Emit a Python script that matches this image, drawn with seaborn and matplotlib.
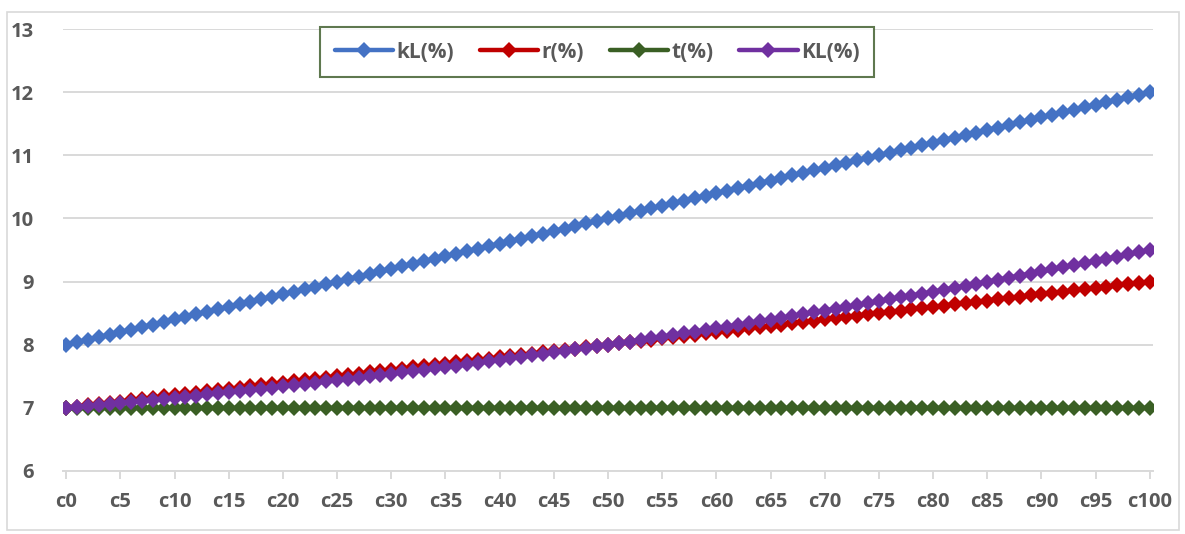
import matplotlib
matplotlib.use("Agg")
import matplotlib.pyplot as plt
import matplotlib.patches as mpatches
import seaborn as sns
import pandas as pd

categories = ["c%d" % i for i in range(101)]

kL = [8.00, 8.04, 8.08, 8.12, 8.16, 8.20, 8.24, 8.28, 8.32, 8.36,
      8.40, 8.44, 8.48, 8.52, 8.56, 8.60, 8.64, 8.68, 8.72, 8.76,
      8.80, 8.84, 8.88, 8.92, 8.96, 9.00, 9.04, 9.08, 9.12, 9.16,
      9.20, 9.24, 9.28, 9.32, 9.36, 9.40, 9.44, 9.48, 9.52, 9.56,
      9.60, 9.64, 9.68, 9.72, 9.76, 9.80, 9.84, 9.88, 9.92, 9.96,
      10.00, 10.04, 10.08, 10.12, 10.16, 10.20, 10.24, 10.28, 10.32, 10.36,
      10.40, 10.44, 10.48, 10.52, 10.56, 10.60, 10.64, 10.68, 10.72, 10.76,
      10.80, 10.84, 10.88, 10.92, 10.96, 11.00, 11.04, 11.08, 11.12, 11.16,
      11.20, 11.24, 11.28, 11.32, 11.36, 11.40, 11.44, 11.48, 11.52, 11.56,
      11.60, 11.64, 11.68, 11.72, 11.76, 11.80, 11.84, 11.88, 11.92, 11.96,
      12.00]

r = [7.00, 7.02, 7.04, 7.06, 7.08, 7.10, 7.12, 7.14, 7.16, 7.18,
     7.20, 7.22, 7.24, 7.26, 7.28, 7.30, 7.32, 7.34, 7.36, 7.38,
     7.40, 7.42, 7.44, 7.46, 7.48, 7.50, 7.52, 7.54, 7.56, 7.58,
     7.60, 7.62, 7.64, 7.66, 7.68, 7.70, 7.72, 7.74, 7.76, 7.78,
     7.80, 7.82, 7.84, 7.86, 7.88, 7.90, 7.92, 7.94, 7.96, 7.98,
     8.00, 8.02, 8.04, 8.06, 8.08, 8.10, 8.12, 8.14, 8.16, 8.18,
     8.20, 8.22, 8.24, 8.26, 8.28, 8.30, 8.32, 8.34, 8.36, 8.38,
     8.40, 8.42, 8.44, 8.46, 8.48, 8.50, 8.52, 8.54, 8.56, 8.58,
     8.60, 8.62, 8.64, 8.66, 8.68, 8.70, 8.72, 8.74, 8.76, 8.78,
     8.80, 8.82, 8.84, 8.86, 8.88, 8.90, 8.92, 8.94, 8.96, 8.98,
     9.00]

t = [7.00] * 101

KL = [7.0000, 7.0151, 7.0304, 7.0459, 7.0616, 7.0775, 7.0936, 7.1099, 7.1264, 7.1431,
      7.1600, 7.1771, 7.1944, 7.2119, 7.2296, 7.2475, 7.2656, 7.2839, 7.3024, 7.3211,
      7.3400, 7.3591, 7.3784, 7.3979, 7.4176, 7.4375, 7.4576, 7.4779, 7.4984, 7.5191,
      7.5400, 7.5611, 7.5824, 7.6039, 7.6256, 7.6475, 7.6696, 7.6919, 7.7144, 7.7371,
      7.7600, 7.7831, 7.8064, 7.8299, 7.8536, 7.8775, 7.9016, 7.9259, 7.9504, 7.9751,
      8.0000, 8.0251, 8.0504, 8.0759, 8.1016, 8.1275, 8.1536, 8.1799, 8.2064, 8.2331,
      8.2600, 8.2871, 8.3144, 8.3419, 8.3696, 8.3975, 8.4256, 8.4539, 8.4824, 8.5111,
      8.5400, 8.5691, 8.5984, 8.6279, 8.6576, 8.6875, 8.7176, 8.7479, 8.7784, 8.8091,
      8.8400, 8.8711, 8.9024, 8.9339, 8.9656, 8.9975, 9.0296, 9.0619, 9.0944, 9.1271,
      9.1600, 9.1931, 9.2264, 9.2599, 9.2936, 9.3275, 9.3616, 9.3959, 9.4304, 9.4651,
      9.5000]

series_names = ["kL(%)", "r(%)", "t(%)", "KL(%)"]
series_values = [kL, r, t, KL]
colors = ["#4472C4", "#C00000", "#3A5F24", "#7030A0"]
y_ticks = [6, 7, 8, 9, 10, 11, 12, 13]

sns.set_theme(style="white")
plt.rcParams["font.family"] = ["Open Sans", "DejaVu Sans"]

rows = []
for name, vals in zip(series_names, series_values):
    for i, v in enumerate(vals):
        rows.append({"idx": i, "cat": categories[i], "value": v, "series": name})
df = pd.DataFrame(rows)

fig = plt.figure(figsize=(11.85, 5.34), dpi=100)
ax = fig.add_axes([63 / 1185, 1 - 471 / 534, (1153 - 63) / 1185, (471 - 29) / 534])

sns.lineplot(data=df, x="idx", y="value", hue="series", hue_order=series_names,
             palette=colors, marker="D", markersize=8.5, markeredgewidth=0,
             linewidth=3.2, ax=ax, legend=True, sort=False)

ax.set_xlim(-0.3, 100.3)
ax.set_ylim(6, 13)
ax.set_yticks(y_ticks)
ax.set_yticklabels([str(v) for v in y_ticks])
ax.set_xticks(list(range(0, 101, 5)))
ax.set_xticklabels(categories[::5])
ax.set_xlabel("")
ax.set_ylabel("")

ax.grid(axis="y", color="#D9D9D9", linewidth=1.4)
ax.set_axisbelow(True)
for side in ["left", "right", "top"]:
    ax.spines[side].set_visible(False)
ax.spines["bottom"].set_color("#D9D9D9")
ax.spines["bottom"].set_linewidth(1.4)

ax.tick_params(axis="x", which="major", bottom=True, length=6, width=1.4,
               color="#D9D9D9", direction="out", pad=9,
               labelsize=14.5, labelcolor="#595959")
ax.tick_params(axis="y", left=False, pad=15, labelsize=14.5, labelcolor="#595959")
for lab in ax.get_xticklabels() + ax.get_yticklabels():
    lab.set_fontweight("bold")

ax.get_legend().remove()
handles = [plt.Line2D([], [], color=c, marker="D", markersize=8, linewidth=3.2,
                      markeredgewidth=0) for c in colors]
leg = fig.legend(handles, series_names, loc="upper center",
                 bbox_to_anchor=(597 / 1185, 1 - 27 / 534), ncol=4,
                 frameon=True, fancybox=False, handlelength=2.8,
                 columnspacing=1.25, handletextpad=0.15, borderpad=0.7,
                 borderaxespad=0.0,
                 prop={"weight": "bold", "size": 15})
leg.get_frame().set_edgecolor("#375623")
leg.get_frame().set_linewidth(1.5)
for txt in leg.get_texts():
    txt.set_color("#595959")

border = mpatches.Rectangle((7 / 1185, 4 / 534), 1172 / 1185, 518 / 534,
                            transform=fig.transFigure, fill=False,
                            edgecolor="#D9D9D9", linewidth=1.2)
fig.patches.append(border)

fig.savefig("out.png", dpi=100)
